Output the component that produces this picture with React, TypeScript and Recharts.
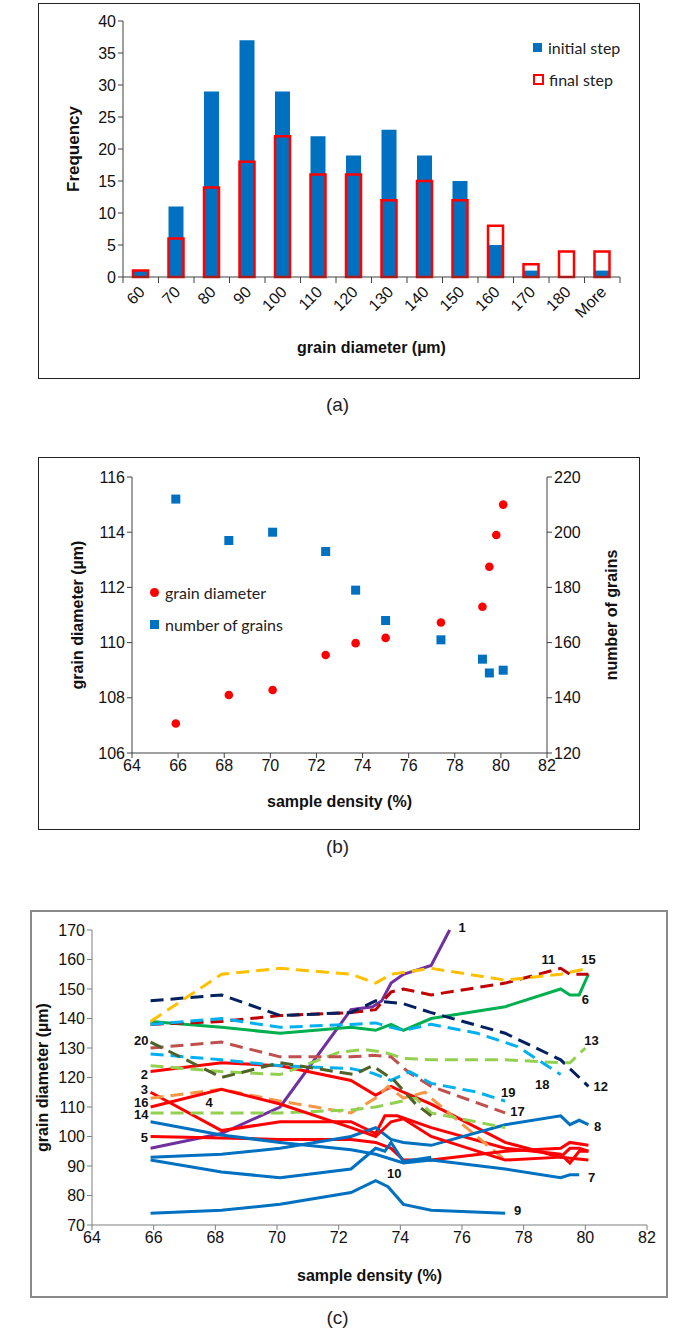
import React from 'react';
import {
  BarChart, Bar, XAxis, YAxis, Label,
  ScatterChart, Scatter, LineChart, Line, ReferenceDot,
} from 'recharts';

// ---------- Panel (a) data ----------
const binLabels = ['60', '70', '80', '90', '100', '110', '120', '130', '140', '150', '160', '170', '180', 'More'];
const initialStep = [1, 11, 29, 37, 29, 22, 19, 23, 19, 15, 5, 1, 0, 1];
const finalStep = [1, 6, 14, 18, 22, 16, 16, 12, 15, 12, 8, 2, 4, 4];
const freqTicks = [0, 5, 10, 15, 20, 25, 30, 35, 40];

// ---------- Panel (b) data ----------
const densityB = [65.9, 68.2, 70.1, 72.4, 73.7, 75.0, 77.4, 79.2, 79.5, 79.8, 80.1];
const grainDiameterB = [107.07, 108.1, 108.28, 109.55, 109.98, 110.17, 110.73, 111.3, 112.75, 113.9, 115.0];
const densityCount = [65.9, 68.2, 70.1, 72.4, 73.7, 75.0, 77.4, 79.2, 79.5, 80.1];
const grainCount = [212, 197, 200, 193, 179, 168, 161, 154, 149, 150];
const densityTicks = [64, 66, 68, 70, 72, 74, 76, 78, 80, 82];
const diamTicksB = [106, 108, 110, 112, 114, 116];
const countTicks = [120, 140, 160, 180, 200, 220];

// ---------- Panel (c) data: [density, grain diameter] ----------
const s1 = [[65.9, 96], [68.2, 101], [70.1, 110], [72.4, 143], [73.1, 144], [73.4, 146], [73.7, 152], [74.1, 155], [75.0, 158], [75.6, 170]];
const s2 = [[65.9, 122], [68.2, 125], [70.1, 124], [72.4, 119], [73.2, 114], [73.7, 117], [74.1, 115], [75.0, 111], [77.4, 98], [79.2, 93], [80.1, 92]];
const s3 = [[65.9, 115], [68.2, 102], [70.1, 105], [72.4, 105], [73.2, 101], [73.5, 107], [73.9, 107], [75.0, 103], [77.4, 96], [79.2, 94], [79.5, 91], [79.8, 95], [80.1, 95]];
const s4 = [[65.9, 113], [68.2, 116], [70.1, 112], [72.4, 108], [73.2, 113], [73.6, 117], [74.1, 113], [74.8, 115], [75.0, 113], [77.4, 92]];
const s5 = [[65.9, 100], [68.2, 99.5], [70.1, 99], [72.4, 99], [73.2, 98], [73.7, 96], [74.1, 92], [75.0, 92], [77.4, 95], [79.2, 96], [79.5, 98], [80.1, 97]];
const s6 = [[65.9, 139], [68.2, 137], [70.1, 135], [72.4, 137], [73.2, 136], [73.7, 138], [74.1, 136], [75.0, 140], [77.4, 144], [79.2, 150], [79.5, 148], [79.8, 148], [80.1, 155]];
const s7 = [[65.9, 105], [68.2, 100.5], [70.1, 98], [72.4, 95.5], [73.2, 94], [74.1, 91], [75.0, 92], [77.4, 89], [79.2, 86], [79.5, 87], [79.8, 87]];
const s8 = [[65.9, 93], [68.2, 94], [70.1, 96], [72.4, 100], [73.2, 103], [73.7, 99], [74.1, 98], [75.0, 97], [77.4, 104], [79.2, 107], [79.5, 104], [79.8, 105.5], [80.1, 104]];
const s9 = [[65.9, 74], [68.2, 75], [70.1, 77], [72.4, 81], [73.2, 85], [73.6, 83], [74.1, 77], [75.0, 75], [77.4, 74]];
const s10 = [[65.9, 92], [68.2, 88], [70.1, 86], [72.4, 89], [73.2, 96], [73.5, 95], [73.7, 98], [74.1, 91.5], [75.0, 93]];
const s11 = [[65.9, 138], [68.2, 139], [70.1, 141], [72.4, 142], [73.2, 143], [73.7, 149], [74.1, 150], [75.0, 148], [77.4, 152], [79.2, 157], [79.5, 155], [80.1, 155]];
const s12 = [[65.9, 146], [68.2, 148], [70.1, 141], [72.4, 142], [73.2, 146], [74.1, 145], [75.0, 142], [77.4, 135], [79.2, 126], [80.1, 117]];
const s13 = [[65.9, 124], [68.2, 122], [70.1, 121], [72.0, 128.5], [72.8, 129.5], [73.5, 128.5], [74.1, 126.5], [75.0, 126], [77.4, 126], [79.2, 125], [79.5, 125], [80.0, 130]];
const s14 = [[65.9, 108], [68.2, 108], [70.1, 108], [72.4, 109], [73.2, 110], [74.5, 113], [75.0, 108], [77.4, 103]];
const s15 = [[65.9, 139], [68.2, 155], [70.1, 157], [72.4, 155], [73.2, 152], [73.7, 155], [75.0, 157], [77.4, 153], [79.2, 155], [80.1, 157]];
const s16 = [[65.9, 110], [68.2, 116], [70.1, 111], [72.4, 103], [73.2, 100], [73.7, 105], [74.1, 106], [75.0, 100], [77.4, 92], [79.2, 93], [79.5, 96], [79.8, 96], [80.1, 95]];
const s17 = [[65.9, 130], [68.2, 132], [70.1, 127], [72.4, 127], [73.1, 127.5], [73.7, 127], [74.3, 121.5], [75.0, 117], [77.4, 108]];
const s18 = [[65.9, 138], [68.2, 140], [70.1, 137], [72.4, 138], [73.2, 138.5], [73.7, 137], [74.1, 136], [75.0, 138], [76.5, 135], [77.8, 130.5], [79.2, 121]];
const s19 = [[65.9, 128], [68.2, 126], [70.1, 124], [72.4, 123], [73.1, 121.5], [73.7, 119], [74.3, 122], [75.0, 118], [76.5, 115], [77.4, 112]];
const s20 = [[65.9, 132], [68.2, 120], [70.1, 125], [72.5, 121], [73.1, 124], [73.8, 119], [74.5, 111], [75.0, 107]];

const seriesC = [s1, s2, s3, s4, s5, s6, s7, s8, s9, s10, s11, s12, s13, s14, s15, s16, s17, s18, s19, s20];
const seriesNames = ['1', '2', '3', '4', '5', '6', '7', '8', '9', '10', '11', '12', '13', '14', '15', '16', '17', '18', '19', '20'];

// label anchors for panel (c)
const labelText = ['1', '11', '15', '6', '13', '12', '18', '19', '17', '8', '7', '9', '10', '20', '2', '3', '16', '14', '4', '5'];
const labelX = [76.0, 78.8, 80.1, 80.0, 80.2, 80.5, 78.6, 77.5, 77.8, 80.4, 80.2, 77.8, 73.8, 65.6, 65.7, 65.7, 65.6, 65.6, 67.8, 65.7];
const labelY = [171, 160, 160, 146.5, 132.5, 117, 117.5, 115, 108.5, 103.5, 86, 75, 87.5, 132.5, 121, 116, 111.7, 107.5, 111.7, 99.7];
const diamTicksC = [70, 80, 90, 100, 110, 120, 130, 140, 150, 160, 170];

// ---------- styles ----------
const BLUE = '#0070C0';
const RED = '#FF0000';
const cColors = ['#7030A0', RED, RED, '#F79646', RED, '#00B050', BLUE, BLUE, BLUE, BLUE,
  '#C00000', '#002060', '#92D050', '#92D050', '#FFC000', RED, '#C0504D', '#00B0F0', '#00B0F0', '#4F6228'];
const cDashed = [false, false, false, true, false, false, false, false, false, false,
  true, true, true, true, true, false, true, true, true, true];
const FONT = '"Liberation Sans", Arial, sans-serif';
const LEGEND_FONT = 'Lato, "Open Sans", sans-serif';
const AXIS = '#7f7f7f';

const barData = binLabels.map((b, i) => ({ bin: b, initial: initialStep[i], final: finalStep[i] }));
const grainPts = densityB.map((x, i) => ({ x, y: grainDiameterB[i] }));
const countPts = densityCount.map((x, i) => ({ x, y: grainCount[i] }));
const toPts = (arr: number[][]) => arr.map(([x, y]) => ({ x, y }));

const CatTick = (props: any) => {
  const { x, y, payload, index } = props;
  const half = payload && payload.offset ? payload.offset : 17.8;
  const axisY = y - 8;
  const last = index === binLabels.length - 1;
  return (
    <g>
      <line x1={x - half} y1={axisY} x2={x - half} y2={axisY + 6} stroke="#404040" strokeWidth={1} />
      {last && <line x1={x + half} y1={axisY} x2={x + half} y2={axisY + 6} stroke="#404040" strokeWidth={1} />}
      <text x={0} y={0} transform={`translate(${x + 5},${y + 8}) rotate(-45)`} textAnchor="end"
        fontSize={16} fontFamily={FONT} fill="#111">{payload.value}</text>
    </g>
  );
};

const RedDot = (props: any) => <circle cx={props.cx} cy={props.cy} r={4.3} fill={RED} />;
const BlueSquare = (props: any) => <rect x={props.cx - 4.5} y={props.cy - 4.5} width={9} height={9} fill={BLUE} />;

const vTitle = (text: string, cx: number, fontSize = 16) => (p: any) => {
  const vb = p.viewBox;
  const cy = vb.y + vb.height / 2;
  return (
    <text x={cx} y={cy} transform={`rotate(-90 ${cx} ${cy})`} textAnchor="middle" dominantBaseline="central"
      fontSize={fontSize} fontWeight="bold" fontFamily={FONT} fill="#111">{text}</text>
  );
};

const panelLabel = (text: string, top: number) => (
  <div style={{ position: 'absolute', left: 0, width: 675, top, textAlign: 'center', fontFamily: FONT, fontSize: 19, color: '#222' }}>{text}</div>
);

const legendRow = (marker: React.ReactNode, text: string, left: number, centerY: number) => (
  <div style={{ position: 'absolute', left, top: centerY - 11, height: 22, display: 'flex', alignItems: 'center',
    fontFamily: LEGEND_FONT, fontSize: 16, color: '#222', whiteSpace: 'nowrap' }}>
    {marker}{text}
  </div>
);

export default function App() {
  return (
    <div style={{ position: 'absolute', left: 0, top: 0, width: 675, height: 1340, background: '#fff', overflow: 'hidden' }}>
      {/* Panel (a) */}
      <div style={{ position: 'absolute', left: 38, top: 3, width: 602, height: 376, border: '1.5px solid #222', boxSizing: 'border-box' }}>
        <BarChart width={599} height={373} data={barData} margin={{ top: 17, right: 18, left: 0, bottom: 20 }} barGap={-15} barCategoryGap={0}>
          <XAxis dataKey="bin" tick={<CatTick />} tickLine={false} interval={0} height={80} stroke="#404040">
            <Label value="grain diameter (µm)" position="insideBottom" offset={4} style={{ fontFamily: FONT, fontSize: 16, fontWeight: 'bold', fill: '#111' }} />
          </XAxis>
          <YAxis domain={[0, 40]} ticks={freqTicks} width={84} stroke="#404040" tick={{ fontSize: 16, fontFamily: FONT, fill: '#111' }} tickSize={5}>
            <Label content={vTitle('Frequency', 34, 17)} />
          </YAxis>
          <Bar dataKey="initial" fill={BLUE} barSize={15} isAnimationActive={false} />
          <Bar dataKey="final" fill="none" stroke={RED} strokeWidth={2.5} barSize={15} isAnimationActive={false} />
        </BarChart>
        {legendRow(<span style={{ display: 'inline-block', width: 9, height: 9, background: BLUE, marginRight: 6 }} />, 'initial step', 494, 43)}
        {legendRow(<span style={{ display: 'inline-block', width: 7, height: 7, border: `2px solid ${RED}`, marginRight: 5 }} />, 'final step', 494, 75)}
      </div>
      {panelLabel('(a)', 394)}

      {/* Panel (b) */}
      <div style={{ position: 'absolute', left: 38, top: 457, width: 602, height: 373, border: '1.5px solid #222', boxSizing: 'border-box' }}>
        <ScatterChart width={599} height={370} margin={{ top: 19, right: 0, left: 0, bottom: 17 }}>
          <XAxis type="number" dataKey="x" domain={[64, 82]} ticks={densityTicks} stroke="#404040" height={58}
            tick={{ fontSize: 16, fontFamily: FONT, fill: '#111' }} tickSize={5} allowDataOverflow>
            <Label value="sample density (%)" position="insideBottom" offset={4} style={{ fontFamily: FONT, fontSize: 16, fontWeight: 'bold', fill: '#111' }} />
          </XAxis>
          <YAxis yAxisId="left" type="number" dataKey="y" domain={[106, 116]} ticks={diamTicksB} width={93} stroke="#404040"
            tick={{ fontSize: 16, fontFamily: FONT, fill: '#111' }} tickSize={5}>
            <Label content={vTitle('grain diameter (µm)', 38, 16)} />
          </YAxis>
          <YAxis yAxisId="right" orientation="right" type="number" dataKey="y" domain={[120, 220]} ticks={countTicks} width={91} stroke="#404040"
            tick={{ fontSize: 16, fontFamily: FONT, fill: '#111' }} tickSize={5}>
            <Label content={vTitle('number of grains', 572, 16)} />
          </YAxis>
          <Scatter yAxisId="left" data={grainPts} shape={<RedDot />} isAnimationActive={false} />
          <Scatter yAxisId="right" data={countPts} shape={<BlueSquare />} isAnimationActive={false} />
        </ScatterChart>
        {legendRow(<span style={{ display: 'inline-block', width: 9, height: 9, borderRadius: 5, background: RED, marginRight: 6 }} />, 'grain diameter', 111, 134)}
        {legendRow(<span style={{ display: 'inline-block', width: 9, height: 9, background: BLUE, marginRight: 6 }} />, 'number of grains', 111, 166)}
      </div>
      {panelLabel('(b)', 836)}

      {/* Panel (c) */}
      <div style={{ position: 'absolute', left: 30, top: 910, width: 638, height: 388, border: '2px solid #8a8a8a', boxSizing: 'border-box' }}>
        <LineChart width={634} height={384} margin={{ top: 18, right: 19, left: 0, bottom: 11 }}>
          <XAxis type="number" dataKey="x" domain={[64, 82]} ticks={densityTicks} stroke={AXIS} height={60}
            tick={{ fontSize: 16, fontFamily: FONT, fill: '#111' }} tickSize={5} allowDataOverflow>
            <Label value="sample density (%)" position="insideBottom" offset={4} style={{ fontFamily: FONT, fontSize: 16, fontWeight: 'bold', fill: '#111' }} />
          </XAxis>
          <YAxis type="number" domain={[70, 170]} ticks={diamTicksC} width={60} stroke={AXIS}
            tick={{ fontSize: 16, fontFamily: FONT, fill: '#111' }} tickSize={5}>
            <Label content={vTitle('grain diameter (µm)', 10, 16)} />
          </YAxis>
          {seriesC.map((s, i) => (
            <Line key={seriesNames[i]} name={seriesNames[i]} data={toPts(s)} dataKey="y" type="linear"
              stroke={cColors[i]} strokeWidth={3} strokeDasharray={cDashed[i] ? '13 7' : undefined}
              dot={false} activeDot={false} isAnimationActive={false} />
          ))}
          {labelText.map((t, i) => (
            <ReferenceDot key={'lbl' + i} x={labelX[i]} y={labelY[i]} r={0} ifOverflow="visible" stroke="none" fill="none"
              label={{ value: t, position: 'center', fontSize: 13, fontWeight: 'bold', fill: '#111', fontFamily: FONT }} />
          ))}
        </LineChart>
      </div>
      {panelLabel('(c)', 1307)}
    </div>
  );
}
